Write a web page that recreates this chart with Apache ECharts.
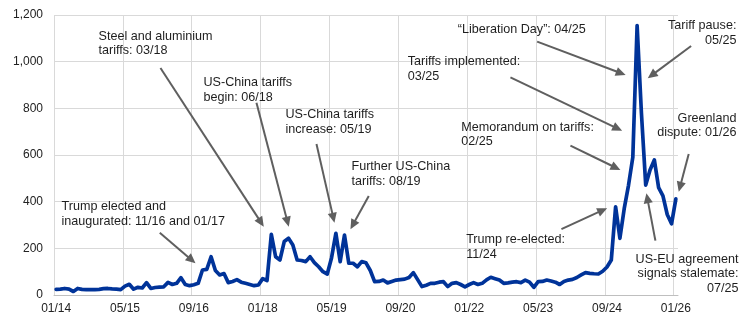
<!DOCTYPE html>
<html><head><meta charset="utf-8">
<script src="https://cdn.jsdelivr.net/npm/echarts@6/dist/echarts.min.js"></script>
<style>html,body{margin:0;padding:0;background:#fff}#c{width:745px;height:323px}</style>
</head><body><div id="c"></div>
<script>
// ---- categories (monthly, 01/14 .. 01/26) ----
const years = ['14','15','16','17','18','19','20','21','22','23','24','25','26'];
const monthNums = ['01','02','03','04','05','06','07','08','09','10','11','12'];
const months = [];
years.forEach(y => monthNums.forEach(m => months.push(m + '/' + y)));
months.length = 145;

// ---- tick labels ----
const xTickLabels = ['01/14','05/15','09/16','01/18','05/19','09/20','01/22','05/23','09/24','01/26'];
const yTicks = [0, 200, 400, 600, 800, 1000, 1200];

// ---- series values, by year ----
const v2014 = [24,25,28,25,15,28,24,23,23,23,24,27];
const v2015 = [28,26,25,23,38,46,25,33,30,53,28,32];
const v2016 = [34,35,54,45,50,74,45,40,44,50,107,110];
const v2017 = [164,105,86,92,53,58,66,55,50,45,40,43];
const v2018 = [70,62,260,164,150,229,243,214,150,148,143,164];
const v2019 = [139,121,100,90,160,264,143,257,136,136,121,143];
const v2020 = [138,105,57,58,64,52,58,64,66,68,75,96];
const v2021 = [66,36,42,50,50,55,57,36,50,53,45,35];
const v2022 = [45,53,45,50,65,76,70,64,50,52,55,57];
const v2023 = [53,64,55,33,57,58,64,60,55,45,58,64];
const v2024 = [67,75,86,96,93,91,90,102,120,150,378,243];
const v2025 = [370,470,590,1155,780,471,536,579,460,425,345,305];
const v2026 = [412];
const values = [].concat(v2014,v2015,v2016,v2017,v2018,v2019,v2020,v2021,v2022,v2023,v2024,v2025,v2026);

// ---- annotations: text, alignment, text anchor and arrow (month index, value) ----
const annTexts = [
  'Steel and aluminium\ntariffs: 03/18',
  'US-China tariffs\nbegin: 06/18',
  'US-China tariffs\nincrease: 05/19',
  'Further US-China\ntariffs: 08/19',
  'Trump elected and\ninaugurated: 11/16 and 01/17',
  'Trump re-elected:\n11/24',
  'Memorandum on tariffs:\n02/25',
  'Tariffs implemented:\n03/25',
  '\u201cLiberation Day\u201d: 04/25',
  'Tariff pause:\n05/25',
  'Greenland\ndispute: 01/26',
  'US-EU agreement\nsignals stalemate:\n07/25'
];
const annAlign = ['left','left','left','left','left','left','left','left','left','right','right','right'];
const annTextAt = [[9.84,1141],[34.23,940],[53.29,803],[68.62,581],[1.24,410],[95.27,267],[94.11,750],[81.7,1031],[93.32,1167],[158.07,1184],[158.07,789],[158.54,184]];
const annArrowFrom = [[24.24,973],[46.55,824],[60.49,647],[72.64,424],[24.08,267],[117.41,282],[119.5,640],[105.56,933],[111.77,1086],[147.55,1067],[146.99,604],[139.25,233]];
const annArrowTo = [[48.25,293],[54.05,293],[64.67,310],[68.39,282],[32.38,136],[128.03,372],[131.12,536],[131.52,704],[132.33,943],[137.47,929],[144.67,443],[137.16,436]];

const FONT = '"Liberation Sans", Arial, Helvetica, sans-serif';
const chart = echarts.init(document.getElementById('c'), null, {renderer: 'canvas'});
const showTick = (idx, val) => xTickLabels.indexOf(val) >= 0;
const splitColors = xTickLabels.map(() => '#d9d9d9').concat(['rgba(0,0,0,0)']);

chart.setOption({
  animation: false,
  backgroundColor: '#ffffff',
  grid: {left: 54, right: 67, top: 15, bottom: 28, containLabel: false},
  xAxis: {
    type: 'category',
    data: months,
    boundaryGap: true,
    axisLine: {show: true, lineStyle: {color: '#bfbfbf', width: 1}},
    axisTick: {show: false},
    axisLabel: {interval: showTick, color: '#222', fontSize: 12, fontFamily: FONT, margin: 8},
    splitLine: {show: true, interval: showTick, lineStyle: {color: splitColors, width: 1}}
  },
  yAxis: {
    type: 'value',
    min: yTicks[0], max: yTicks[yTicks.length - 1], interval: yTicks[1] - yTicks[0],
    axisLine: {show: false},
    axisTick: {show: false},
    axisLabel: {color: '#222', fontSize: 12, fontFamily: FONT, margin: 11,
      formatter: v => v.toLocaleString('en-US')},
    splitLine: {show: true, lineStyle: {color: '#d9d9d9', width: 1}}
  },
  series: [{
    type: 'line',
    data: values,
    symbol: 'none',
    smooth: false,
    lineStyle: {color: '#003399', width: 3.7, join: 'round', cap: 'round'},
    z: 3
  }]
});

// ---- annotations positioned through the chart's own scales ----
const xa = chart.convertToPixel({xAxisIndex: 0}, months[0]);
const xb = chart.convertToPixel({xAxisIndex: 0}, months[144]);
const bw = (xb - xa) / 144;
function P(p) { return [xa + p[0] * bw, chart.convertToPixel({yAxisIndex: 0}, p[1])]; }

const graphics = [];
annTexts.forEach((t, k) => {
  const tp = P(annTextAt[k]);
  graphics.push({
    type: 'text', z: 10,
    style: {text: t, x: tp[0], y: tp[1], align: annAlign[k], verticalAlign: 'top',
      fill: '#1e1e1e', fontSize: 12.6, fontFamily: FONT, lineHeight: 14.5}
  });
  const a = P(annArrowFrom[k]), b = P(annArrowTo[k]);
  const dx = b[0] - a[0], dy = b[1] - a[1];
  const len = Math.sqrt(dx * dx + dy * dy);
  const ux = dx / len, uy = dy / len, nx = -uy, ny = ux;
  const L = 10, W = 4.6;
  const bx = b[0] - ux * L, by = b[1] - uy * L;
  graphics.push({
    type: 'line', z: 9,
    shape: {x1: a[0], y1: a[1], x2: bx + ux, y2: by + uy},
    style: {stroke: '#5f5f5f', lineWidth: 2}
  });
  graphics.push({
    type: 'polygon', z: 9,
    shape: {points: [[b[0], b[1]], [bx + nx * W, by + ny * W], [bx - nx * W, by - ny * W]]},
    style: {fill: '#5f5f5f'}
  });
});
chart.setOption({graphic: graphics});
</script></body></html>
